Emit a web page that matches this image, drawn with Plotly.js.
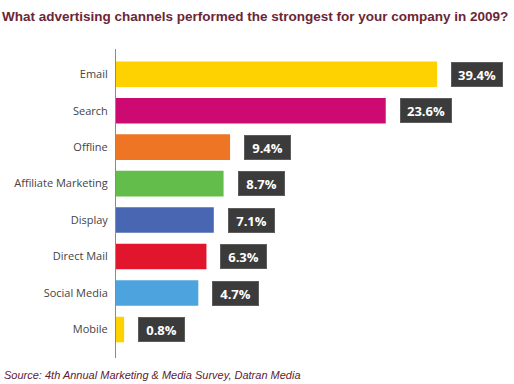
<!DOCTYPE html>
<html>
<head>
<meta charset="utf-8">
<script src="https://cdn.plot.ly/plotly-3.0.1.min.js"></script>
<style>html,body{margin:0;padding:0;background:#fff;}#chart{width:514px;height:384px;}</style>
</head>
<body>
<div id="chart"></div>
<script>
// Data
var categories = ["Email", "Search", "Offline", "Affiliate Marketing", "Display", "Direct Mail", "Social Media", "Mobile"];
var percentLabels = [39.4, 23.6, 9.4, 8.7, 7.1, 6.3, 4.7, 0.8];
// bar lengths as drawn in the reference (the original graphic is not to scale), in axis units
var drawnLengths = [39.4, 33.1, 14.0, 13.2, 12.0, 11.1, 10.1, 1.0];
var barColors = ["#FDD200", "#CC0A72", "#EE7524", "#63BD4A", "#4866B2", "#E1152B", "#4CA3DE", "#FDD200"];

var titleText = "What advertising channels performed the strongest for your company in 2009?";
var sourceText = "Source: 4th Annual Marketing &amp; Media Survey, Datran Media";

var trace = {
  type: "bar",
  orientation: "h",
  y: categories,
  x: drawnLengths,
  marker: {color: barColors, line: {width: 0}},
  width: 0.7,
  hoverinfo: "skip"
};

var annotations = categories.map(function (c, i) {
  var txt = percentLabels[i].toFixed(1) + "%";
  return {
    x: drawnLengths[i], y: c, xref: "x", yref: "y",
    xanchor: "left", yanchor: "middle", xshift: 14,
    text: "<b>" + txt + "</b>",
    showarrow: false,
    font: {family: "Open Sans, sans-serif", size: 13, color: "#ffffff"},
    bgcolor: "#3b3b3b", bordercolor: "#5c5c5c", borderwidth: 1, borderpad: 0,
    width: txt.length > 4 ? 50 : 45, height: 23
  };
});

annotations.push({
  xref: "paper", yref: "paper", x: -116/394, y: 1 + 32/309,
  xanchor: "left", yanchor: "middle",
  text: "<b>" + titleText + "</b>", showarrow: false,
  font: {family: "Liberation Sans, Arial, sans-serif", size: 13.5, color: "#6B2636"}
});
annotations.push({
  xref: "paper", yref: "paper", x: -114/394, y: -17/309,
  xanchor: "left", yanchor: "middle",
  text: "<i>" + sourceText + "</i>", showarrow: false,
  font: {family: "Liberation Sans, Arial, sans-serif", size: 11, color: "#5E2233"}
});

var layout = {
  width: 514, height: 384,
  margin: {l: 116, r: 4, t: 49, b: 26},
  paper_bgcolor: "#ffffff", plot_bgcolor: "#ffffff",
  showlegend: false,
  bargap: 0.3,
  xaxis: {range: [0, 48.35], visible: false, fixedrange: true},
  yaxis: {
    type: "category", categoryorder: "array", categoryarray: categories,
    range: [7.78, -0.69],
    showline: true, linecolor: "#8a8a8a", linewidth: 1,
    showgrid: false, zeroline: false, ticks: "",
    ticklabelstandoff: 5,
    tickfont: {family: "Open Sans, sans-serif", size: 11, color: "#444444"}
  },
  annotations: annotations
};

Plotly.newPlot("chart", [trace], layout, {displayModeBar: false, staticPlot: true});
</script>
</body>
</html>
